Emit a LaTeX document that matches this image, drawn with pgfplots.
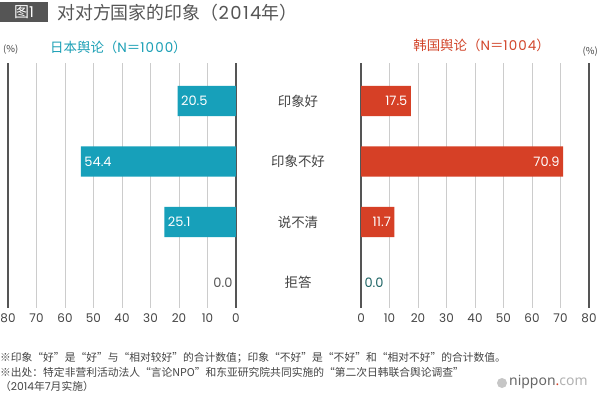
\documentclass[border=0pt]{standalone}
\usepackage{fontspec}
\setmainfont{Noto Sans CJK SC}
\newfontfamily\logofont{Noto Sans}
\newfontfamily\pop{Poppins}
\newfontfamily\popw{Poppins}[LetterSpace=8]
\usepackage{pgfplots}
\pgfplotsset{compat=1.18}
\definecolor{jpteal}{HTML}{17A0BA}
\definecolor{krred}{HTML}{D64026}
\definecolor{jptitle}{HTML}{1A9FB5}
\definecolor{krtitle}{HTML}{D2452A}
\definecolor{zeroteal}{HTML}{1E6464}
\definecolor{gridgray}{HTML}{CCCCCC}
\definecolor{axisgray}{HTML}{555555}
\definecolor{txtgray}{HTML}{444444}
\definecolor{titlebox}{HTML}{555555}
\newcommand{\fs}[1]{\fontsize{#1}{#1}\selectfont}
\pgfplotsset{
  halfaxis/.style={
    scale only axis, width=228bp, height=245bp,
    xmin=0, xmax=80, ymin=-0.628, ymax=3.42, y dir=reverse,
    axis line style={draw=none},
    /pgf/number format/assume math mode=true,
    xtick={10,20,...,70}, extra x ticks={0,80},
    extra x tick style={grid style={draw=axisgray, line width=1.1pt}},
    xmajorgrids, grid style={draw=gridgray, line width=0.8pt},
    major tick length=0pt,
    tick label style={font=\pop\fs{12}, text=txtgray},
    xticklabel style={yshift=-2bp},
    xbar, bar width=0.5, bar shift=0pt,
    point meta=x,
    nodes near coords={\pgfmathprintnumber[fixed,fixed zerofill,precision=1,assume math mode=true]{\pgfplotspointmeta}},
    clip=false,
  }
}
\begin{document}
\begin{tikzpicture}
\useasboundingbox (0,0) rectangle (600bp,-395bp);
\fill[white] (0,0) rectangle (600bp,-395bp);
\begin{scope}[x=1bp,y=-1bp]
\fill[titlebox] (0,2) rectangle (48,22);
\node[text=white, font=\fs{15}, inner sep=0] at (24,12) {图{\pop 1}};
\node[anchor=west, text=axisgray, font=\fs{18}, inner sep=0] at (57,13) {对对方国家的印象（{\popw\fs{18}2014}年）};
\node[anchor=west, text=jptitle, font=\fs{13.5}, inner sep=0] at (50,47) {日本舆论（{\popw N}＝{\popw 1000}）};
\node[anchor=east, text=krtitle, font=\fs{13.5}, inner sep=0] at (550,45) {韩国舆论（{\popw N}＝{\popw 1004}）};
\node[anchor=west, text=txtgray, font=\fs{9.5}, inner sep=0] at (3,50) {(\%)};
\node[anchor=east, text=txtgray, font=\fs{9.5}, inner sep=0] at (598,52) {(\%)};
\node[anchor=west, text=txtgray, font=\fs{10.8}, inner sep=0] at (0,358) {※印象“好”是“好”与“相对较好”的合计数值；印象“不好”是“不好”和“相对不好”的合计数值。};
\node[anchor=west, text=txtgray, font=\fs{10.8}, inner sep=0] at (0,372) {※出处：特定非营利活动法人“言论NPO”和东亚研究院共同实施的“第二次日韩联合舆论调查”};
\node[anchor=west, text=txtgray, font=\fs{10.8}, inner sep=0] at (0,386) {（{\pop 2014}年{\pop 7}月实施）};
\fill[gray!45] (502,383) circle (5);
\node[anchor=west, inner sep=0, font=\logofont\fs{14}] at (509,382) {\textcolor{gray!80!black}{\bfseries nippon}\textcolor{krred}{\bfseries .}\textcolor{gray!60}{com}};
\end{scope}

\begin{axis}[halfaxis, at={(8bp,-308bp)}, anchor=south west, x dir=reverse, ytick=\empty]
\addplot[fill=jpteal, draw=none, nodes near coords style={anchor=west, text=white, font=\pop\fs{13}}]
  coordinates {(20.5,0) (54.4,1) (25.1,2)};
\addplot[draw=none, fill=none, nodes near coords style={anchor=east, text=axisgray, font=\pop\fs{13}}]
  coordinates {(0.0,3)};
\end{axis}

\begin{axis}[halfaxis, at={(361bp,-308bp)}, anchor=south west,
  ytick={0,1,2,3}, yticklabels={印象好,印象不好,说不清,拒答},
  yticklabel style={anchor=center, xshift=-63bp, font=\fs{13.5}, text=txtgray}]
\addplot[fill=krred, draw=none, nodes near coords style={anchor=east, text=white, font=\pop\fs{13}}]
  coordinates {(17.5,0) (70.9,1) (11.7,2)};
\addplot[draw=none, fill=none, nodes near coords style={anchor=west, text=zeroteal, font=\pop\fs{13}}]
  coordinates {(0.0,3)};
\end{axis}
\end{tikzpicture}
\end{document}
